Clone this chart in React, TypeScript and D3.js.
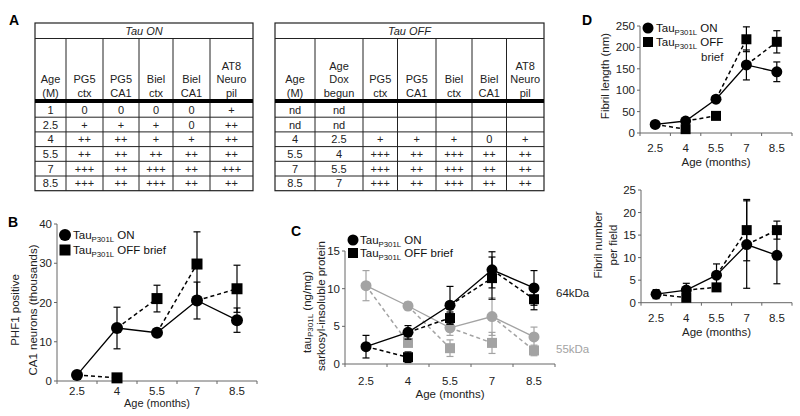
import React from "react";
import * as d3 from "d3";

const ages = ["2.5", "4", "5.5", "7", "8.5"];

// Panel B: PHF1 positive CA1 neurons (thousands)
const bOn = [1.5, 13.5, 12.3, 20.5, 15.5];
const bOnErr = [0.5, 5.3, 1.0, 4.7, 3.1];
const bOff = [null, 0.8, 21.0, 29.8, 23.5];
const bOffErr = [null, 0.3, 3.4, 8.2, 6.0];
const bTicks = [0, 10, 20, 30, 40];

// Panel C: sarkosyl-insoluble tau (ng/mg)
const c64On = [2.3, 4.2, 7.8, 12.5, 10.1];
const c64OnErr = [1.5, 0.9, 2.5, 2.4, 2.3];
const c64Off = [null, 0.9, 6.1, 11.4, 8.6];
const c64OffErr = [null, 0.7, 0.8, 2.8, 1.4];
const c55On = [10.4, 7.7, 4.8, 6.3, 3.6];
const c55OnErr = [2.0, 0.5, 1.0, 2.5, 1.3];
const c55Off = [null, 2.8, 2.1, 2.8, 1.8];
const c55OffErr = [null, 0.5, 1.1, 1.4, 0.7];
const cTicks = [0, 5, 10, 15];

// Panel D: fibril length (nm) and fibril number per field
const dLenOn = [20, 28, 79, 159, 143];
const dLenOnErr = [4, 5, 8, 35, 23];
const dLenOff = [null, 9, 40, 219, 213];
const dLenOffErr = [null, 3, 4, 29, 26];
const dLenTicks = [0, 50, 100, 150, 200, 250];
const dNumOn = [1.9, 2.8, 6.1, 12.9, 10.5];
const dNumOnErr = [1.0, 1.5, 2.5, 9.7, 6.3];
const dNumOff = [null, 1.1, 3.4, 16.1, 16.1];
const dNumOffErr = [null, 0.5, 0.6, 6.8, 2.0];
const dNumTicks = [0, 5, 10, 15, 20, 25];

// Panel A tables
const tableOnHeaders = [["Age", "(M)"], ["PG5", "ctx"], ["PG5", "CA1"], ["Biel", "ctx"], ["Biel", "CA1"], ["AT8", "Neuro", "pil"]];
const tableOnRows = [
  ["1", "0", "0", "0", "0", "+"],
  ["2.5", "+", "+", "+", "0", "++"],
  ["4", "++", "++", "+", "+", "++"],
  ["5.5", "++", "++", "++", "++", "++"],
  ["7", "+++", "++", "+++", "++", "+++"],
  ["8.5", "+++", "++", "+++", "++", "++"],
];
const tableOffHeaders = [["Age", "(M)"], ["Age", "Dox", "begun"], ["PG5", "ctx"], ["PG5", "CA1"], ["Biel", "ctx"], ["Biel", "CA1"], ["AT8", "Neuro", "pil"]];
const tableOffRows = [
  ["nd", "nd", "", "", "", "", ""],
  ["nd", "nd", "", "", "", "", ""],
  ["4", "2.5", "+", "+", "+", "0", "+"],
  ["5.5", "4", "+++", "++", "+++", "++", "++"],
  ["7", "5.5", "+++", "++", "+++", "++", "++"],
  ["8.5", "7", "+++", "++", "+++", "++", "++"],
];

const FONT = "'Liberation Sans', Arial, Helvetica, sans-serif";
const GRAY = "#a3a3a3";

function Table({ cols, title, headers, rows }) {
  const top = 23, titleBottom = 38.5, thick = 101, rowTop = 102.5, rowH = 14.7;
  const bottom = rowTop + rowH * rows.length;
  const left = cols[0], right = cols[cols.length - 1];
  return (
    <g fontFamily={FONT} fill="#222">
      <rect x={left} y={top} width={right - left} height={bottom - top} fill="none" stroke="#222" strokeWidth={1.2} />
      <line x1={left} x2={right} y1={titleBottom} y2={titleBottom} stroke="#222" />
      <text x={(left + right) / 2} y={35} textAnchor="middle" fontSize={11} fontStyle="italic">{title}</text>
      {cols.slice(1, -1).map((c, i) => (
        <line key={i} x1={c} x2={c} y1={titleBottom} y2={bottom} stroke="#222" />
      ))}
      <line x1={left} x2={right} y1={thick} y2={thick} stroke="#000" strokeWidth={4} />
      {rows.map((r, i) => i > 0 && (
        <line key={i} x1={left} x2={right} y1={rowTop + rowH * i} y2={rowTop + rowH * i} stroke="#222" />
      ))}
      {headers.map((lines, j) => {
        const cx = (cols[j] + cols[j + 1]) / 2;
        return lines.map((t, k) => (
          <text key={j + "-" + k} x={cx} y={96.5 - (lines.length - 1 - k) * 13.5} textAnchor="middle" fontSize={11}>{t}</text>
        ));
      })}
      {rows.map((r, i) => r.map((t, j) => (
        <text key={i + "-" + j} x={(cols[j] + cols[j + 1]) / 2} y={rowTop + rowH * i + rowH / 2 + 4} textAnchor="middle" fontSize={11}>{t}</text>
      )))}
    </g>
  );
}

function TauLabel({ x, y, suffix, size = 11.5 }) {
  return (
    <text x={x} y={y} fontSize={size} fontFamily={FONT} fill="#111">
      <tspan>Tau</tspan>
      <tspan fontSize={size * 0.68} dy={3}>P301L</tspan>
      <tspan dy={-3}>{" " + suffix}</tspan>
    </text>
  );
}

function Series({ x, y, on, onErr, off, offErr, color, r, sq }) {
  const pts = (arr) => arr.map((v, i) => (v == null ? null : [x(ages[i]), y(v)]));
  const onPts = pts(on);
  const offPts = pts(off);
  const line = d3.line();
  const dashSegs = [];
  for (let i = 1; i < ages.length; i++) {
    if (off[i] != null && on[i - 1] != null) dashSegs.push([onPts[i - 1], offPts[i]]);
  }
  const err = (arr, e, key) => arr.map((v, i) => {
    if (v == null || e[i] == null) return null;
    const cx = x(ages[i]);
    const y1 = y(v - e[i]), y2 = y(v + e[i]);
    return (
      <g key={key + i} stroke={color} strokeWidth={1.2}>
        <line x1={cx} x2={cx} y1={y1} y2={y2} />
        <line x1={cx - 3.5} x2={cx + 3.5} y1={y1} y2={y1} />
        <line x1={cx - 3.5} x2={cx + 3.5} y1={y2} y2={y2} />
      </g>
    );
  });
  return (
    <g>
      <path d={line(onPts)} fill="none" stroke={color} strokeWidth={1.3} />
      {dashSegs.map((s, i) => (
        <path key={i} d={line(s)} fill="none" stroke={color} strokeWidth={1.5} strokeDasharray="4,3" />
      ))}
      {err(on, onErr, "on")}
      {err(off, offErr, "off")}
      {onPts.map((p, i) => p && <circle key={"c" + i} cx={p[0]} cy={p[1]} r={r} fill={color} />)}
      {offPts.map((p, i) => p && <rect key={"s" + i} x={p[0] - sq / 2} y={p[1] - sq / 2} width={sq} height={sq} fill={color} />)}
    </g>
  );
}

function Axes({ x, y, ticks, tickY, titleY, fs = 11.5, titleFs = 11.5 }) {
  const [x0, x1] = x.range();
  const y0 = y(0);
  const bw = x.bandwidth();
  return (
    <g fontFamily={FONT} fill="#222" fontSize={fs}>
      <line x1={x0} x2={x0} y1={y0} y2={y(ticks[ticks.length - 1])} stroke="#666" />
      {ticks.map((t) => (
        <g key={t}>
          <line x1={x0 - 3} x2={x0} y1={y(t)} y2={y(t)} stroke="#666" />
          <text x={x0 - 5} y={y(t) + 4} textAnchor="end">{t}</text>
        </g>
      ))}
      <line x1={x0} x2={x1} y1={y0} y2={y0} stroke="#666" />
      {d3.range(ages.length + 1).map((i) => (
        <line key={i} x1={x0 + i * bw} x2={x0 + i * bw} y1={y0} y2={y0 + 3} stroke="#666" />
      ))}
      {ages.map((a) => (
        <text key={a} x={x(a) + bw / 2} y={tickY} textAnchor="middle">{a}</text>
      ))}
      <text x={(x0 + x1) / 2} y={titleY} textAnchor="middle" fontSize={titleFs}>Age (months)</text>
    </g>
  );
}

export default function App() {
  const band = (r) => d3.scaleBand().domain(ages).range(r).padding(0);

  const xB = band([57, 257]);
  const yB = d3.scaleLinear().domain([0, 40]).range([381, 224]);
  const xC = band([345, 555]);
  const yC = d3.scaleLinear().domain([0, 15]).range([364, 251]);
  const xD1 = band([640, 792]);
  const yD1 = d3.scaleLinear().domain([0, 250]).range([133, 26]);
  const xD2 = band([641, 792]);
  const yD2 = d3.scaleLinear().domain([0, 25]).range([302.7, 190]);

  const cx = (s) => (a) => s(a) + s.bandwidth() / 2;

  return (
    <svg width={800} height={416} style={{ position: "absolute", left: 0, top: 0, background: "#fff" }} fontFamily={FONT}>
      <rect width={800} height={416} fill="#fff" />
      {/* Panel labels */}
      <text x={9} y={25} fontSize={14} fontWeight="bold">A</text>
      <text x={8} y={227} fontSize={14} fontWeight="bold">B</text>
      <text x={291} y={236} fontSize={14} fontWeight="bold">C</text>
      <text x={582} y={25} fontSize={14} fontWeight="bold">D</text>

      <Table cols={[35, 66, 103, 139, 173, 210, 253]} title="Tau ON" headers={tableOnHeaders} rows={tableOnRows} />
      <Table cols={[275, 315, 363, 397.5, 436, 472, 506.5, 544]} title="Tau OFF" headers={tableOffHeaders} rows={tableOffRows} />

      {/* Panel B */}
      <Axes x={xB} y={yB} ticks={bTicks} tickY={394.5} titleY={407} titleFs={11} />
      <Series x={cx(xB)} y={yB} on={bOn} onErr={bOnErr} off={bOff} offErr={bOffErr} color="#000" r={6} sq={11} />
      <g fontFamily={FONT} fontSize={11.5} fill="#222">
        <text transform="translate(15,310) rotate(-90)" textAnchor="middle" dominantBaseline="central">PHF1 positive</text>
        <text transform="translate(33,310) rotate(-90)" textAnchor="middle" dominantBaseline="central">CA1 neurons (thousands)</text>
      </g>
      <circle cx={65} cy={235} r={6} fill="#000" />
      <TauLabel x={73} y={239} suffix="ON" />
      <rect x={59.5} y={244.5} width={11} height={11} fill="#000" />
      <TauLabel x={73} y={254} suffix="OFF brief" />

      {/* Panel C */}
      <Axes x={xC} y={yC} ticks={cTicks} tickY={385} titleY={397.5} />
      <Series x={cx(xC)} y={yC} on={c55On} onErr={c55OnErr} off={c55Off} offErr={c55OffErr} color={GRAY} r={5.5} sq={10} />
      <Series x={cx(xC)} y={yC} on={c64On} onErr={c64OnErr} off={c64Off} offErr={c64OffErr} color="#000" r={5.5} sq={10} />
      <g fontFamily={FONT} fontSize={11.5} fill="#222">
        <text transform="translate(307,312) rotate(-90)" textAnchor="middle" dominantBaseline="central">
          <tspan>tau</tspan>
          <tspan fontSize={8} dy={3}>P301L</tspan>
          <tspan dy={-3}>{"  (ng/mg)"}</tspan>
        </text>
        <text transform="translate(321,306) rotate(-90)" textAnchor="middle" dominantBaseline="central">sarkosyl-insoluble protein</text>
      </g>
      <text x={556} y={297} fontSize={11.5} fill="#222">64kDa</text>
      <text x={556} y={353} fontSize={11.5} fill={GRAY}>55kDa</text>
      <circle cx={353} cy={240} r={5.5} fill="#000" />
      <TauLabel x={360} y={244} suffix="ON" />
      <rect x={348} y={248} width={10} height={10} fill="#000" />
      <TauLabel x={360} y={257} suffix="OFF brief" />

      {/* Panel D top */}
      <Axes x={xD1} y={yD1} ticks={dLenTicks} tickY={152} titleY={166} />
      <Series x={cx(xD1)} y={yD1} on={dLenOn} onErr={dLenOnErr} off={dLenOff} offErr={dLenOffErr} color="#000" r={5.5} sq={10} />
      <text transform="translate(605,76) rotate(-90)" textAnchor="middle" dominantBaseline="central" fontSize={11.5} fill="#222">Fibril length (nm)</text>
      <circle cx={648} cy={28} r={5.5} fill="#000" />
      <TauLabel x={656} y={32} suffix="ON" />
      <rect x={643} y={37} width={10} height={10} fill="#000" />
      <TauLabel x={656} y={46} suffix="OFF" />
      <text x={701} y={61} fontSize={11.5} fill="#222">brief</text>

      {/* Panel D bottom */}
      <Axes x={xD2} y={yD2} ticks={dNumTicks} tickY={322} titleY={336} />
      <Series x={cx(xD2)} y={yD2} on={dNumOn} onErr={dNumOnErr} off={dNumOff} offErr={dNumOffErr} color="#000" r={5.5} sq={10} />
      <g fontSize={11.5} fill="#222">
        <text transform="translate(598,245) rotate(-90)" textAnchor="middle" dominantBaseline="central">Fibril number</text>
        <text transform="translate(613,245) rotate(-90)" textAnchor="middle" dominantBaseline="central">per field</text>
      </g>
    </svg>
  );
}
